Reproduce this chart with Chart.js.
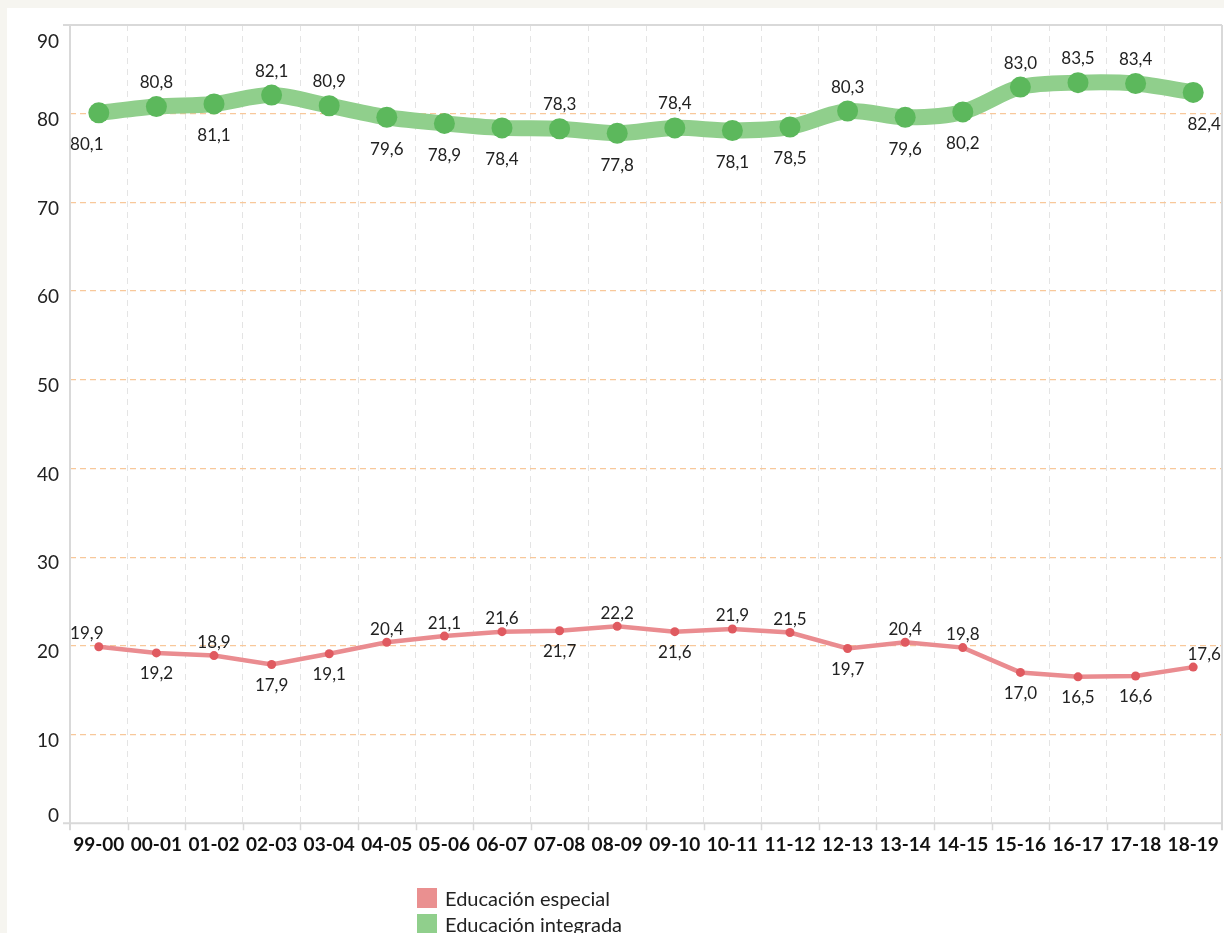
<!DOCTYPE html>
<html>
<head>
<meta charset="utf-8">
<script src="https://cdn.jsdelivr.net/npm/chart.js@4/dist/chart.umd.min.js"></script>
<style>
  html, body { margin: 0; padding: 0; }
  body { width: 1224px; height: 933px; background: #f6f5f0; position: relative; overflow: hidden; font-family: Lato, "Open Sans", sans-serif; }
  #panel { position: absolute; left: 7px; top: 8px; right: 0; bottom: 0; background: #fff; }
  #wrap { position: absolute; left: 0; top: 0; width: 1224px; height: 933px; }
  .legend { position: absolute; left: 417px; font-size: 20px; color: #222; }
  .legend div { height: 26px; display: flex; align-items: center; }
  .legend span.box { display: inline-block; width: 20px; height: 20px; margin-right: 8px; }
</style>
</head>
<body>
<div id="panel"></div>
<div id="wrap"><canvas id="chart" width="1224" height="933"></canvas></div>
<div class="legend" style="top: 885px;">
  <div><span class="box" style="background:#ea9090"></span>Educación especial</div>
  <div><span class="box" style="background:#90cf8c"></span>Educación integrada</div>
</div>
<script>
var cursos = ['99-00', '00-01', '01-02', '02-03', '03-04', '04-05', '05-06', '06-07', '07-08', '08-09',
              '09-10', '10-11', '11-12', '12-13', '13-14', '14-15', '15-16', '16-17', '17-18', '18-19'];
var especial = [19.9, 19.2, 18.9, 17.9, 19.1, 20.4, 21.1, 21.6, 21.7, 22.2,
                21.6, 21.9, 21.5, 19.7, 20.4, 19.8, 17.0, 16.5, 16.6, 17.6];
var integrada = [80.1, 80.8, 81.1, 82.1, 80.9, 79.6, 78.9, 78.4, 78.3, 77.8,
                 78.4, 78.1, 78.5, 80.3, 79.6, 80.2, 83.0, 83.5, 83.4, 82.4];
var yTicks = [0, 10, 20, 30, 40, 50, 60, 70, 80, 90];
// +1 = etiqueta encima del punto, -1 = debajo
var posEspecial = [1, -1, 1, -1, -1, 1, 1, 1, -1, 1, -1, 1, 1, -1, 1, 1, -1, -1, -1, 1];
var posIntegrada = [-1, 1, -1, 1, 1, -1, -1, -1, 1, -1, 1, -1, -1, 1, -1, -1, 1, 1, 1, -1];

var FONT = 'Lato, "Open Sans", sans-serif';
var FRAME = '#d9d9d9';

function fmt(v) { return v.toFixed(1).replace('.', ','); }

// el área de trazado llega hasta el borde derecho
var ajuste = {
  id: 'ajuste',
  afterLayout: function(chart) {
    var a = chart.chartArea, x = chart.scales.x;
    a.right = chart.width - 2;
    a.width = a.right - a.left;
    x.right = a.right;
    x.width = x.right - x.left;
    x.configure();
    x._labelItems = null;
    x._gridLineItems = null;
  }
};

// marco gris, marcas del eje x y etiquetas del eje y
var marco = {
  id: 'marco',
  beforeDatasetsDraw: function(chart) {
    var ctx = chart.ctx, a = chart.chartArea, x = chart.scales.x, y = chart.scales.y;
    ctx.save();
    ctx.strokeStyle = FRAME;
    ctx.lineWidth = 2;
    ctx.beginPath();
    ctx.moveTo(a.left - 7, a.top); ctx.lineTo(a.right, a.top);
    ctx.moveTo(a.left - 7, a.bottom); ctx.lineTo(a.right, a.bottom);
    ctx.moveTo(a.left, a.top); ctx.lineTo(a.left, a.bottom + 7);
    ctx.moveTo(a.right, a.top); ctx.lineTo(a.right, a.bottom + 7);
    ctx.stroke();
    ctx.lineWidth = 1.5;
    var w = (a.right - a.left) / cursos.length;
    ctx.beginPath();
    for (var i = 1; i < cursos.length; i++) {
      var px = Math.round(x.getPixelForValue(i) - w / 2) + 0.5;
      ctx.moveTo(px, a.bottom); ctx.lineTo(px, a.bottom + 7);
    }
    ctx.stroke();
    ctx.fillStyle = '#222';
    ctx.font = '19px ' + FONT;
    ctx.textAlign = 'right';
    ctx.textBaseline = 'middle';
    yTicks.forEach(function(t) {
      var off = t === 90 ? 17 : (t === 0 ? -7 : 6);
      ctx.fillText(String(t), a.left - 11, y.getPixelForValue(t) + off);
    });
    ctx.restore();
  }
};

// valores sobre/bajo cada punto
var etiquetas = {
  id: 'etiquetas',
  afterDatasetsDraw: function(chart) {
    var ctx = chart.ctx;
    ctx.save();
    ctx.fillStyle = '#222';
    ctx.font = '17px ' + FONT;
    ctx.textAlign = 'center';
    ctx.textBaseline = 'middle';
    chart.data.datasets.forEach(function(ds, di) {
      var meta = chart.getDatasetMeta(di);
      var pos = ds.posiciones, up = ds.arriba, down = ds.abajo;
      meta.data.forEach(function(pt, i) {
        var dx = 0;
        if (i === 0) dx = -12;
        if (i === ds.data.length - 1) dx = 11;
        var dy = pos[i] > 0 ? -up : down;
        ctx.fillText(fmt(ds.data[i]), pt.x + dx, pt.y + dy);
      });
    });
    ctx.restore();
  }
};

new Chart(document.getElementById('chart').getContext('2d'), {
  type: 'line',
  data: {
    labels: cursos,
    datasets: [{
      label: 'Educación integrada',
      data: integrada,
      posiciones: posIntegrada,
      arriba: 24,
      abajo: 32,
      borderColor: '#90cf8c',
      backgroundColor: '#5cb85c',
      borderWidth: 16,
      pointRadius: 10.5,
      pointBorderWidth: 0,
      pointBackgroundColor: '#5cb85c',
      tension: 0.3,
      fill: false
    }, {
      label: 'Educación especial',
      data: especial,
      posiciones: posEspecial,
      arriba: 13,
      abajo: 21,
      borderColor: '#ea8c90',
      backgroundColor: '#e05a60',
      borderWidth: 4.5,
      pointRadius: 4.5,
      pointBorderWidth: 0,
      pointBackgroundColor: '#e05a60',
      tension: 0,
      fill: false
    }]
  },
  options: {
    responsive: false,
    animation: false,
    layout: { padding: { left: 70, top: 25, right: 2, bottom: 67 } },
    plugins: {
      legend: { display: false },
      tooltip: { enabled: false }
    },
    scales: {
      x: {
        offset: true,
        afterFit: function(s) { s.paddingLeft = 0; s.paddingRight = 0; },
        grid: {
          offset: true,
          drawTicks: false,
          color: '#e4e4e4',
          lineWidth: 1
        },
        border: { display: false, dash: [6, 5] },
        ticks: {
          padding: 10,
          color: '#111',
          font: { family: FONT, size: 19, weight: 'bold' },
          maxRotation: 0,
          autoSkip: false
        }
      },
      y: {
        min: 0,
        max: 90,
        grid: {
          drawTicks: false,
          color: function(c) {
            var v = c.tick ? c.tick.value : null;
            return (v === 0 || v === 90) ? 'rgba(0,0,0,0)' : '#f8c89a';
          },
          lineWidth: 1.2
        },
        border: { display: false, dash: [6, 4] },
        ticks: { display: false, stepSize: 10 }
      }
    }
  },
  plugins: [ajuste, marco, etiquetas]
});
</script>
</body>
</html>
